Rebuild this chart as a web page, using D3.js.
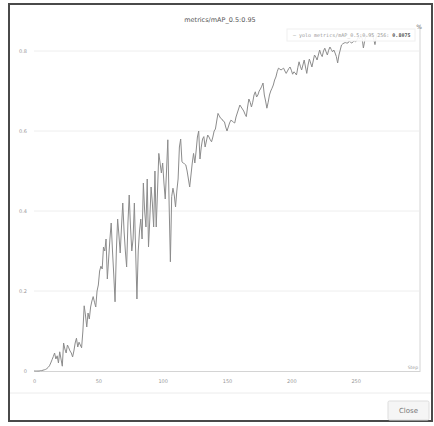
<!DOCTYPE html>
<html>
<head>
<meta charset="utf-8">
<script src="https://cdn.jsdelivr.net/npm/d3@7"></script>
<style>
  html, body { margin: 0; padding: 0; background: #fff; }
  svg { display: block; }
</style>
</head>
<body>
<svg id="chart" width="434" height="426"></svg>
<script>
// mAP@0.5:0.95 per training step (index = step)
const mAP = [
  0, 0, 0, 0, 0, 0.001, 0.001, 0.002, 0.003, 0.004,
  0.006, 0.009, 0.013, 0.02, 0.028, 0.036, 0.045, 0.03, 0.038, 0.02,
  0.048, 0.03, 0.012, 0.07, 0.055, 0.045, 0.065, 0.058, 0.05, 0.045,
  0.035, 0.05, 0.07, 0.082, 0.06, 0.072, 0.065, 0.058, 0.1, 0.163,
  0.14, 0.11, 0.145, 0.13, 0.16, 0.175, 0.186, 0.172, 0.16, 0.2,
  0.215, 0.25, 0.262, 0.255, 0.31, 0.3, 0.33, 0.23, 0.28, 0.33,
  0.37, 0.3, 0.24, 0.173, 0.3, 0.38, 0.34, 0.295, 0.36, 0.42,
  0.35, 0.3, 0.26, 0.37, 0.44, 0.36, 0.3, 0.33, 0.42, 0.3,
  0.18, 0.3, 0.35, 0.38, 0.33, 0.47, 0.4, 0.36, 0.48, 0.31,
  0.38, 0.46, 0.42, 0.36, 0.5, 0.36, 0.45, 0.544, 0.52, 0.495,
  0.52, 0.47, 0.43, 0.5, 0.578, 0.42, 0.273, 0.436, 0.457, 0.44,
  0.41, 0.45, 0.48, 0.56, 0.58, 0.523, 0.52, 0.518, 0.515, 0.5,
  0.48, 0.46, 0.49, 0.52, 0.544, 0.52, 0.55, 0.585, 0.6, 0.53,
  0.56, 0.58, 0.586, 0.56, 0.575, 0.59, 0.585, 0.578, 0.573, 0.585,
  0.6, 0.605, 0.625, 0.644, 0.638, 0.632, 0.63, 0.625, 0.623, 0.61,
  0.6, 0.61, 0.62, 0.627, 0.625, 0.622, 0.62, 0.635, 0.645, 0.655,
  0.665, 0.66, 0.655, 0.65, 0.642, 0.636, 0.66, 0.68, 0.672, 0.66,
  0.672, 0.69, 0.698, 0.685, 0.69, 0.7, 0.705, 0.712, 0.72, 0.69,
  0.675, 0.657, 0.672, 0.69, 0.7, 0.707, 0.715, 0.7275, 0.735, 0.748,
  0.757, 0.755, 0.7525, 0.755, 0.757, 0.75, 0.744, 0.75, 0.756, 0.76,
  0.752, 0.742, 0.748, 0.745, 0.74, 0.758, 0.773, 0.762, 0.7525, 0.765,
  0.7775, 0.76, 0.744, 0.765, 0.78, 0.77, 0.76, 0.775, 0.79, 0.785,
  0.7775, 0.79, 0.8025, 0.792, 0.786, 0.8, 0.807, 0.798, 0.79, 0.802,
  0.81, 0.804, 0.798, 0.8025, 0.795, 0.786, 0.77, 0.79, 0.8025, 0.815,
  0.818, 0.82, 0.821, 0.82, 0.82, 0.825, 0.822, 0.82, 0.823, 0.825,
  0.823, 0.828, 0.835, 0.83, 0.838, 0.832, 0.8075, 0.825, 0.84, 0.835,
  0.842, 0.838, 0.845, 0.84, 0.83, 0.816, 0.835, 0.845, 0.84
];
const xTicks = [0, 50, 100, 150, 200, 250];
const yTicks = [0, 0.2, 0.4, 0.6, 0.8];
const yTickLabels = ["0", "0.2", "0.4", "0.6", "0.8"];
const chartTitle = "metrics/mAP_0.5:0.95";
const runName = "yolo metrics/mAP_0.5:0.95";
const hoverStep = 256;

const svg = d3.select("#chart");

// dialog frame
svg.append("rect")
  .attr("x", 9).attr("y", 4).attr("width", 423).attr("height", 417)
  .attr("fill", "#fff").attr("stroke", "#4a4a4a").attr("stroke-width", 2);

const x = d3.scaleLinear().domain([0, 300]).range([34, 420]);
const y = d3.scaleLinear().domain([0, 0.865]).range([371, 25]);

// horizontal grid
svg.append("g")
  .selectAll("line")
  .data(yTicks.slice(1))
  .join("line")
  .attr("x1", x(0)).attr("x2", x(300) - 1)
  .attr("y1", d => y(d)).attr("y2", d => y(d))
  .attr("stroke", "#eeeeee").attr("stroke-width", 1);

// x axis
const xAxis = svg.append("g")
  .attr("transform", `translate(0,${y(0)})`)
  .call(d3.axisBottom(x).tickValues(xTicks).tickSize(0).tickPadding(8).tickFormat(d3.format("d")));
xAxis.select(".domain").attr("stroke", "#d4d4d4");
xAxis.selectAll("text").attr("fill", "#999").attr("font-size", 5).attr("font-family", "DejaVu Sans");

// y axis labels
const yAxis = svg.append("g")
  .attr("transform", `translate(${x(0) - 7},0)`)
  .call(d3.axisLeft(y).tickValues(yTicks).tickSize(0).tickPadding(0)
    .tickFormat((d, i) => yTickLabels[i]));
yAxis.select(".domain").remove();
yAxis.selectAll("text").attr("fill", "#999").attr("font-size", 5).attr("font-family", "DejaVu Sans");

// right edge of the plot area
svg.append("line")
  .attr("x1", x(300)).attr("x2", x(300))
  .attr("y1", y.range()[1]).attr("y2", y(0))
  .attr("stroke", "#d4d4d4");

// series line
const line = d3.line()
  .x((d, i) => x(i))
  .y(d => y(d));
svg.append("path")
  .datum(mAP)
  .attr("d", line)
  .attr("fill", "none")
  .attr("stroke", "#8c8c8c")
  .attr("stroke-width", 1)
  .attr("stroke-linejoin", "round");

// title
svg.append("text")
  .attr("x", 220).attr("y", 22)
  .attr("text-anchor", "middle")
  .attr("font-family", "DejaVu Sans").attr("font-size", 6.5)
  .attr("fill", "#555")
  .text(chartTitle);

// x axis name
svg.append("text")
  .attr("x", 418).attr("y", 369)
  .attr("text-anchor", "end")
  .attr("font-family", "DejaVu Sans").attr("font-size", 4.5)
  .attr("fill", "#999")
  .text("Step");

// hover legend
const lg = svg.append("g");
lg.append("rect")
  .attr("x", 287).attr("y", 29).attr("width", 128).attr("height", 12)
  .attr("fill", "#fff").attr("fill-opacity", 0.9)
  .attr("stroke", "#f0f0f0");
const lt = lg.append("text")
  .attr("x", 293).attr("y", 37)
  .attr("font-family", "DejaVu Sans Mono").attr("font-size", 5)
  .attr("fill", "#999");
lt.append("tspan").text("— ");
lt.append("tspan").text(`${runName} ${hoverStep}: `);
lt.append("tspan").attr("font-weight", "bold").attr("fill", "#555")
  .text(d3.format(".4f")(mAP[hoverStep]));

// toolbar glyph above the plot edge
svg.append("text")
  .attr("x", 419).attr("y", 29)
  .attr("text-anchor", "middle")
  .attr("font-family", "DejaVu Sans").attr("font-size", 6)
  .attr("fill", "#777")
  .text("%");

// footer
svg.append("line")
  .attr("x1", 10).attr("x2", 431).attr("y1", 393).attr("y2", 393)
  .attr("stroke", "#ececec");
svg.append("rect")
  .attr("x", 388).attr("y", 401).attr("width", 41).attr("height", 19)
  .attr("rx", 1.5)
  .attr("fill", "#f5f5f5").attr("stroke", "#dddddd");
svg.append("text")
  .attr("x", 408.5).attr("y", 413)
  .attr("text-anchor", "middle")
  .attr("font-family", "DejaVu Sans").attr("font-size", 7)
  .attr("fill", "#777")
  .text("Close");
</script>
</body>
</html>
